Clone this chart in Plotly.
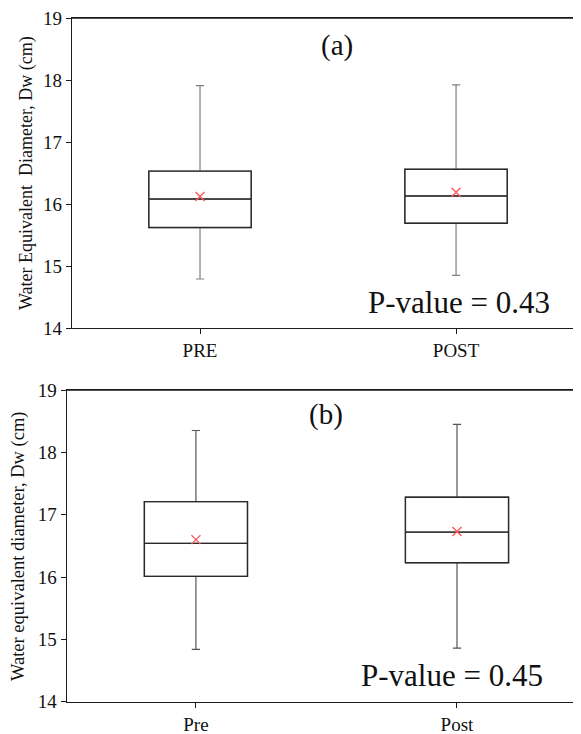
import plotly.graph_objects as go

# ---- data ----
cats_a = ["PRE", "POST"]
lower_a = [14.79, 14.85]
q1_a = [15.62, 15.69]
median_a = [16.08, 16.13]
q3_a = [16.53, 16.56]
upper_a = [17.91, 17.92]
mean_a = [16.12, 16.19]

cats_b = ["Pre", "Post"]
lower_b = [14.84, 14.86]
q1_b = [16.01, 16.23]
median_b = [16.54, 16.72]
q3_b = [17.21, 17.28]
upper_b = [18.35, 18.45]
mean_b = [16.60, 16.73]

pvals = ["P-value = 0.43", "P-value = 0.45"]
yticks = [14, 15, 16, 17, 18, 19]

FONT = "Liberation Serif, Times New Roman, serif"
# page body has an 8px margin: figure is placed at (8, 8) in the window
OFF = 8
W, H = 581 - OFF, 734 - OFF

fig = go.Figure()

def add_panel(xref, yref, lower, q1, med, q3, upper, mean, whisk_col, bw):
    xs = [0, 1]
    # whiskers (grey) with full fences
    fig.add_trace(go.Box(x=xs, q1=q1, median=med, q3=q3, lowerfence=lower,
                         upperfence=upper, width=bw, whiskerwidth=0.08,
                         line=dict(color=whisk_col, width=1.2),
                         fillcolor="rgba(0,0,0,0)", boxpoints=False,
                         xaxis=xref, yaxis=yref, showlegend=False, hoverinfo="skip"))
    # dark box on top (fences = quartiles)
    fig.add_trace(go.Box(x=xs, q1=q1, median=med, q3=q3, lowerfence=q1,
                         upperfence=q3, width=bw, whiskerwidth=0,
                         line=dict(color="#2a2a2a", width=1.4),
                         fillcolor="rgba(0,0,0,0)", boxpoints=False,
                         xaxis=xref, yaxis=yref, showlegend=False, hoverinfo="skip"))
    fig.add_trace(go.Scatter(x=xs, y=mean, mode="markers",
                             marker=dict(symbol="x-thin", size=9,
                                         line=dict(color="#ff5a5a", width=1.4)),
                             xaxis=xref, yaxis=yref, showlegend=False, hoverinfo="skip"))

add_panel("x", "y", lower_a, q1_a, median_a, q3_a, upper_a, mean_a, "#7f7f7f", 0.4)
add_panel("x2", "y2", lower_b, q1_b, median_b, q3_b, upper_b, mean_b, "#555555", 0.395)

def yfrac(py):
    return 1 - (py - OFF) / H

def xfrac(px):
    return (px - OFF) / W

axis_common = dict(showline=True, linecolor="#1a1a1a", linewidth=1.3,
                   ticks="outside", ticklen=5, tickcolor="#1a1a1a",
                   showgrid=False, zeroline=False, automargin=False,
                   ticklabeloverflow="allow",
                   tickfont=dict(family=FONT, size=19, color="#111111"))

fig.update_layout(
    width=W, height=H, margin=dict(l=0, r=0, t=0, b=0, autoexpand=False),
    plot_bgcolor="white", paper_bgcolor="white",
    xaxis=dict(domain=[xfrac(72), 1], range=[-0.5, 1.488], tickvals=[0, 1],
               ticktext=cats_a, mirror=True, anchor="y", **axis_common),
    yaxis=dict(domain=[yfrac(328), yfrac(18)], range=[14, 19], tickvals=yticks,
               anchor="x", **axis_common),
    xaxis2=dict(domain=[xfrac(66.7), 1], range=[-0.495, 1.475], tickvals=[0, 1],
                ticktext=cats_b, mirror=True, anchor="y2", **axis_common),
    yaxis2=dict(domain=[yfrac(701.7), yfrac(390)], range=[14, 19], tickvals=yticks,
                anchor="x2", **axis_common),
)

# top frame line of each panel (frame only), drawn in paper coordinates
for xd, ytop in [(xfrac(72), yfrac(18)), (xfrac(66.7), yfrac(390))]:
    fig.add_shape(type="line", xref="paper", yref="paper", layer="above",
                  x0=xd, x1=1, y0=ytop, y1=ytop,
                  line=dict(color="#1a1a1a", width=1.5))

ann = [
    dict(text="Water Equivalent  Diameter, Dw (cm)", x=26, y=173,
         textangle=-90, size=18),
    dict(text="Water equivalent diameter, Dw (cm)", x=18, y=546,
         textangle=-90, size=18.5),
    dict(text="(a)", x=337.5, y=46, textangle=0, size=29),
    dict(text="(b)", x=326, y=415, textangle=0, size=29),
    dict(text=pvals[0], x=459, y=302, textangle=0, size=31),
    dict(text=pvals[1], x=452, y=675, textangle=0, size=31),
]
for a in ann:
    fig.add_annotation(text=a["text"], x=xfrac(a["x"]), y=yfrac(a["y"]),
                       xref="paper", yref="paper",
                       xanchor="center", yanchor="middle", showarrow=False,
                       textangle=a["textangle"],
                       font=dict(family=FONT, size=a["size"], color="#111111"))

fig.write_html("out.html", config={"displayModeBar": False})
